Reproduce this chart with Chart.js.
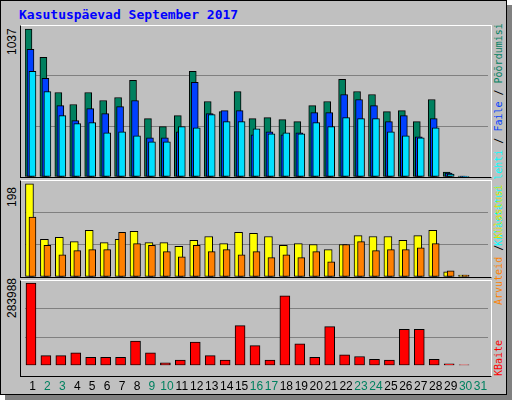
<!DOCTYPE html>
<html>
<head>
<meta charset="utf-8">
<script src="https://cdn.jsdelivr.net/npm/chart.js@4.4.0/dist/chart.umd.min.js"></script>
<style>
  body { margin: 0; background: #ffffff; }
  #frame { position: absolute; left: 0; top: 0; width: 505px; height: 393px; background: #c0c0c0;
           border: 1px solid #000; box-shadow: 5px 5px 0 #808080; }
  .title { position: absolute; left: 19px; top: 7px; font: bold 13px "DejaVu Sans Mono", monospace; color: #0000ff; }
  .panel { position: absolute; left: 20px; width: 470px; background: #c0c0c0;
           border-top: 1px solid #fff; border-right: 1px solid #fff; border-left: 1px solid #000; border-bottom: 1px solid #000; }
  canvas { position: absolute; left: 0; }
  .vlab { position: absolute; transform-origin: 0 0; transform: rotate(-90deg); white-space: nowrap;
          font: 12px "Liberation Sans", sans-serif; }
  .rlab { position: absolute; transform-origin: 0 0; transform: rotate(-90deg); white-space: nowrap;
          font: 10px "DejaVu Sans Mono", monospace; }
</style>
</head>
<body>
<div id="frame"></div>
<div class="title">Kasutuspäevad September 2017</div>
<div class="panel" style="top:25px;height:151px"></div>
<div class="panel" style="top:180px;height:96px"></div>
<div class="panel" style="top:280px;height:95px"></div>
<div class="vlab" style="left:5px;top:55px">1037</div>
<div class="vlab" style="left:5px;top:207px">198</div>
<div class="vlab" style="left:5px;top:318px">283988</div>
<div class="rlab" style="left:493px;top:246px"><span style="color:#00ffff">Külastatud lehti</span> / <span style="color:#0040ff">Faile</span> / <span style="color:#00805f">Põõrdumisi</span></div>
<div class="rlab" style="left:493px;top:305px"><span style="color:#ff8000">Arvuteid</span> / <span style="color:#e0e000">Külastusi</span></div>
<div class="rlab" style="left:493px;top:376px"><span style="color:#ff0000">KBaite</span></div>
<canvas id="c1" width="512" height="152" style="top:25px;width:512px;height:152px"></canvas>
<canvas id="c2" width="512" height="97" style="top:180px;width:512px;height:97px"></canvas>
<canvas id="c3" width="512" height="120" style="top:280px;width:512px;height:120px"></canvas>
<script>
const days = ['1','2','3','4','5','6','7','8','9','10','11','12','13','14','15','16','17','18','19','20','21','22','23','24','25','26','27','28','29','30','31'];
const weekend = ['2','3','9','10','16','17','23','24','30','31'];

const hits = [1037,839,592,508,592,536,557,677,409,353,430,740,529,458,599,409,416,402,388,500,529,684,599,578,458,465,388,543,35,7,0];
const files = [895,691,500,395,479,444,493,536,275,275,317,663,444,465,465,296,317,296,310,451,451,578,543,500,388,430,282,409,28,7,0];
const pages = [740,599,430,374,381,310,317,289,247,247,353,345,437,388,388,338,303,310,303,381,353,416,409,409,317,289,275,345,21,3,0];

const visits = [198,80,84,75,99,73,80,97,73,73,65,78,86,71,95,93,86,67,71,69,58,69,88,86,86,78,88,99,11,4,0];
const visitors = [127,67,47,56,58,58,95,71,67,54,43,67,54,58,47,54,41,47,41,54,32,69,75,56,58,58,62,71,13,4,0];

const kbytes = [283988,34300,34300,43700,28100,28100,28100,84200,43700,9400,18700,81100,34300,18700,137300,68600,18700,240200,74900,28100,134200,37400,31200,21800,18700,124800,124800,21800,6200,3000,0];

// shift bars sideways after layout so they overlap like the original
const shiftPlugin = {
  id: 'shift',
  afterDatasetsUpdate(chart) {
    chart.data.datasets.forEach((ds, i) => {
      chart.getDatasetMeta(i).data.forEach(el => { el.x += ds.shift || 0; });
    });
  }
};

function ds(data, color, width, shift, order) {
  return { data, backgroundColor: color, borderColor: '#000', borderWidth: 1, borderSkipped: false,
           barThickness: width, grouped: false, shift, order };
}

function makeChart(id, datasets, max, showX) {
  new Chart(document.getElementById(id), {
    type: 'bar',
    data: { labels: days, datasets },
    plugins: [shiftPlugin],
    options: {
      responsive: false, animation: false,
      layout: { padding: { left: 25, right: 24, top: 0, bottom: 0 } },
      plugins: { legend: { display: false }, tooltip: { enabled: false } },
      scales: {
        x: {
          display: showX, offset: true,
          grid: { display: false }, border: { display: false },
          ticks: {
            autoSkip: false, maxRotation: 0, padding: 6,
            font: { family: 'Liberation Sans', size: 12 },
            color: ctx => weekend.includes(days[ctx.index]) ? '#00805f' : '#000'
          }
        },
        y: {
          min: 0, max, afterFit: s => { s.width = 0; },
          ticks: { display: false, stepSize: max / 3 },
          grid: { color: c => (c.tick.value > 0 && c.tick.value < max) ? '#808080' : 'rgba(0,0,0,0)', drawTicks: false, lineWidth: 1 },
          border: { display: false }
        }
      }
    }
  });
}

makeChart('c1', [
  ds(hits, '#00805f', 7, -4, 3),
  ds(files, '#0040ff', 7, -2, 2),
  ds(pages, '#00e0ff', 7, 0, 1)
], 1065, false);

makeChart('c2', [
  ds(visits, '#ffff00', 8, -3, 2),
  ds(visitors, '#ff8000', 7, 0, 1)
], 206, false);

makeChart('c3', [
  ds(kbytes, '#ff0000', 10, -1.5, 1)
], 294400, true);
</script>
</body>
</html>
